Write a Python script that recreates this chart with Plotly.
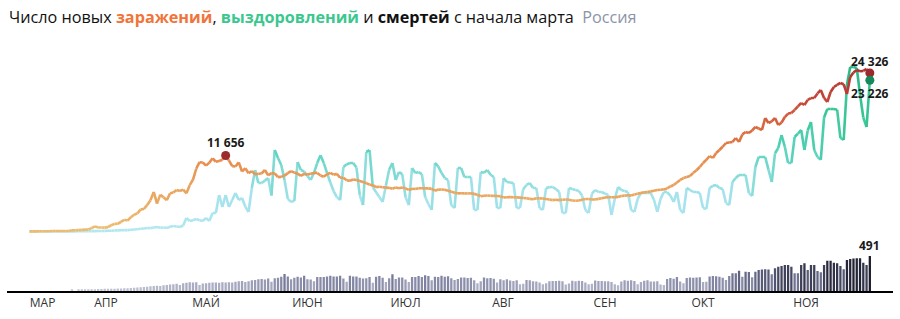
import numpy as np
import pandas as pd
import plotly.graph_objects as go
from plotly.colors import sample_colorscale

# ---------------- data (daily, Russia 2020) ----------------
cases_mar = [8, 6, 11, 14, 30, 21, 33, 52, 54, 53, 61, 71, 57, 163, 182, 196, 228, 270, 302, 500]  # from Mar 12
cases_apr = [771, 601, 601, 582, 658, 954, 1154, 1175, 1459, 1786, 1667, 2186, 2558, 2774, 3388, 3448, 4070, 4785, 6060, 4268,
             5642, 5236, 4774, 5849, 5966, 6361, 6198, 6411, 5841, 7099]
cases_may = [7933, 9623, 10633, 10581, 10102, 10559, 11231, 10699, 10817, 11012, 11656, 10899, 10028, 9974, 10598, 9200,
             9709, 8926, 9263, 8764, 8849, 8894, 9434, 8599, 8946, 8915, 8338, 8371, 8572, 8952, 9268]
cases_jun = [9035, 8863, 8536, 8831, 8726, 8855, 8984, 8985, 8595, 8404, 8779, 8987, 8706, 8835, 8246, 8248, 7843, 7790,
             7972, 7889, 7728, 7600, 7425, 7176, 7113, 6800, 6852, 6791, 6719, 6693]
cases_jul = [6556, 6760, 6632, 6736, 6611, 6368, 6562, 6509, 6635, 6635, 6611, 6615, 6537, 6248, 6422, 6428, 6406, 6234,
             6109, 5940, 5842, 5862, 5848, 5811, 5871, 5765, 5635, 5395, 5475, 5509, 5482]
cases_aug = [5450, 5430, 5400, 5200, 5250, 5270, 5250, 5220, 5190, 5120, 5100, 5000, 4950, 5100, 5070, 5060, 4970, 4900,
             4800, 4850, 4800, 4870, 4900, 4850, 4750, 4700, 4750, 4850, 4980, 4980, 4900]
cases_sep = [4900, 5000, 5100, 5200, 5250, 5250, 5250, 5300, 5450, 5500, 5550, 5500, 5650, 5800, 5900, 6000, 6050, 6150,
             6250, 6350, 6400, 6450, 6600, 6900, 7130, 7500, 7900, 8200, 8350, 8510]
cases_oct = [9000, 9400, 9890, 10500, 11000, 11580, 11275, 12040, 12500, 13000, 13580, 13650, 13730, 14350, 13730, 14900,
             15270, 15120, 15500, 16040, 15800, 15580, 17420, 16650, 16900, 17420, 16340, 16700, 17570, 18100, 18190]
cases_nov = [18650, 19200, 19720, 19420, 20200, 20490, 20490, 21200, 21720, 20500, 19880, 21410, 22180, 22500, 22800,
             22600, 21100, 23700, 24400, 24800, 24600, 24650, 24950, 24326]

rec_mar = [0, 0, 0, 0, 0, 1, 1, 2, 3, 3, 5, 5, 8, 9, 10, 12, 15, 20, 25, 35]  # from Mar 12
rec_apr = [45, 50, 60, 75, 90, 110, 130, 150, 170, 200, 200, 250, 300, 330, 400, 450, 520, 500, 600, 680, 550, 600, 520,
           700, 830, 750, 680, 900, 2060, 1600]
rec_may = [1700, 1900, 1700, 1600, 2060, 1600, 2830, 2830, 5590, 3750, 5590, 3750, 4820, 5900, 4820, 5130, 3800, 2980,
           6670, 9430, 7430, 7430, 7800, 8200, 5500, 12500, 11280, 10200, 7900, 5000, 4520]
rec_jun = [4700, 10660, 9430, 9200, 8500, 7900, 9000, 10500, 11700, 10500, 9000, 7500, 6200, 5280, 4820, 9890, 10300,
           10500, 10500, 9800, 5590, 4050, 12200, 12500, 6820, 6000, 5280, 4520, 7000, 9500]
rec_jul = [10500, 7900, 9120, 8800, 5280, 4050, 9740, 8970, 9120, 8800, 5280, 4200, 3290, 10500, 10000, 9000, 8200, 7900,
           4000, 3590, 9740, 9740, 8360, 8360, 8360, 3290, 3290, 9120, 9000, 9430, 8700]
rec_aug = [8360, 3590, 3590, 8200, 7590, 7500, 7430, 3600, 3590, 6500, 7130, 7430, 6670, 6670, 3590, 3290, 6670, 6800,
           6820, 6500, 6050, 2830, 2830, 6670, 6500, 6360, 6200, 5500, 3290, 2830, 5800]
rec_sep = [6360, 6050, 6050, 5800, 5590, 2520, 5000, 6820, 6360, 6200, 6050, 3290, 2980, 5000, 5900, 5900, 5900, 5900,
           4820, 2980, 5000, 6050, 6050, 5500, 4520, 6050, 3290, 2830, 6670, 6360]
rec_oct = [6050, 6050, 5900, 3590, 3440, 6670, 7000, 7130, 6670, 6500, 4360, 4050, 7590, 8200, 8660, 8660, 8660, 5900,
           5440, 9890, 11430, 11430, 11430, 9500, 7590, 12000, 12810, 14810, 13000, 10500, 10500]
rec_nov = [14500, 15000, 15580, 12500, 15500, 16800, 12500, 11430, 11000, 17500, 18800, 18800, 18800, 18700, 14350,
           14040, 22490, 25250, 25250, 25100, 21000, 17500, 16040, 23226]

deaths_mar = [15, 0, 18, 20, 22, 22, 25]  # from Mar 25
deaths_apr = [26, 28, 28, 30, 30, 32, 33, 34, 36, 38, 40, 42, 45, 48, 52, 56, 61, 66, 70, 75, 70, 80, 84, 90, 94, 100,
              84, 108, 117, 122]
deaths_may = [120, 122, 84, 105, 110, 115, 118, 120, 115, 122, 118, 122, 120, 131, 135, 140, 125, 135, 150, 155, 164,
              170, 160, 175, 130, 178, 185, 200, 238, 205, 165]
deaths_jun = [185, 200, 190, 215, 165, 160, 135, 195, 195, 198, 205, 215, 205, 205, 215, 175, 130, 215, 205, 205, 185,
              175, 178, 195, 115, 200, 210, 185, 125, 178]
deaths_jul = [235, 170, 190, 190, 160, 125, 195, 195, 210, 195, 220, 210, 150, 200, 198, 215, 200, 208, 178, 155, 170,
              188, 188, 183, 185, 150, 110, 138, 190, 178, 183]
deaths_aug = [172, 118, 165, 150, 165, 148, 142, 150, 95, 100, 155, 150, 138, 134, 118, 95, 110, 138, 140, 140, 145, 138,
              92, 106, 145, 135, 145, 140, 118, 95, 100]
deaths_sep = [146, 142, 140, 136, 138, 126, 94, 80, 134, 152, 145, 150, 142, 94, 126, 145, 150, 132, 132, 136, 90, 84,
              168, 182, 172, 196, 134, 108, 182, 190]
deaths_oct = [185, 190, 192, 126, 130, 205, 210, 208, 200, 185, 154, 210, 248, 248, 285, 200, 271, 265, 192, 271, 295,
              300, 304, 300, 234, 318, 341, 350, 365, 365, 341]
deaths_nov = [248, 248, 365, 388, 295, 365, 365, 280, 262, 365, 425, 425, 397, 388, 350, 304, 435, 449, 455, 458, 458,
              397, 365, 491]

month_labels = ["МАР", "АПР", "МАЙ", "ИЮН", "ИЮЛ", "АВГ", "СЕН", "ОКТ", "НОЯ"]

# ---------------- helpers ----------------
def build(series_list, first_start):
    starts = [first_start, "2020-04-01", "2020-05-01", "2020-06-01", "2020-07-01", "2020-08-01",
              "2020-09-01", "2020-10-01", "2020-11-01"]
    dates, vals = [], []
    for s, arr in zip(starts, series_list):
        dates += [d.strftime("%Y-%m-%d") for d in pd.date_range(s, periods=len(arr), freq="D")]
        vals += [float(v) for v in arr]
    return dates, np.array(vals, dtype=float)

c_dates, cases = build([cases_mar, cases_apr, cases_may, cases_jun, cases_jul, cases_aug, cases_sep, cases_oct, cases_nov], "2020-03-12")
r_dates, recov = build([rec_mar, rec_apr, rec_may, rec_jun, rec_jul, rec_aug, rec_sep, rec_oct, rec_nov], "2020-03-12")
d_dates, deaths = build([deaths_mar, deaths_apr, deaths_may, deaths_jun, deaths_jul, deaths_aug, deaths_sep, deaths_oct, deaths_nov], "2020-03-25")

cases_scale = [[0, "#ecbc70"], [0.25, "#e9a55e"], [0.45, "#e78a4d"], [0.62, "#d9683f"],
               [0.8, "#c34638"], [1, "#a93030"]]
recov_scale = [[0, "#b2e8f0"], [0.22, "#a4e2ec"], [0.4, "#74d8cc"], [0.52, "#4fd0b4"],
               [0.7, "#3bc897"], [1, "#2ab683"]]
deaths_scale = [[0, "#c9cbd9"], [0.25, "#a9abc2"], [0.45, "#7d809e"], [0.65, "#50536f"],
                [0.85, "#2a2b40"], [1, "#1c1c2a"]]

VMAX = 25500.0

def gradient_traces(dates, vals, scale, width, nbins=40):
    mids = (vals[:-1] + vals[1:]) / 2.0 / VMAX
    bins = np.clip(np.floor(mids * nbins), 0, nbins - 1).astype(int)
    traces = []
    for b in np.unique(bins):
        xs, ys = [], []
        for i in np.where(bins == b)[0]:
            xs += [dates[i], dates[i + 1], None]
            ys += [float(vals[i]), float(vals[i + 1]), None]
        col = sample_colorscale(scale, [(b + 0.5) / nbins])[0]
        traces.append(go.Scatter(x=xs, y=ys, mode="lines", line=dict(color=col, width=width),
                                 hoverinfo="skip", showlegend=False, connectgaps=False))
    return traces

fig = go.Figure()

# deaths bars
fig.add_trace(go.Bar(x=d_dates, y=deaths, yaxis="y2",
                     marker=dict(color=deaths, colorscale=deaths_scale, cmin=0, cmax=float(deaths.max()),
                                 line=dict(width=0)),
                     hoverinfo="skip", showlegend=False))

for t in gradient_traces(r_dates, recov, recov_scale, 2.6):
    fig.add_trace(t)
for t in gradient_traces(c_dates, cases, cases_scale, 2.6):
    fig.add_trace(t)

# markers
spring = np.array([d < "2020-06-01" for d in c_dates])
i_peak = int(np.argmax(np.where(spring, cases, -1)))
fig.add_trace(go.Scatter(x=[c_dates[i_peak], c_dates[-1]], y=[cases[i_peak], cases[-1]], mode="markers",
                         marker=dict(color="#9c2a2c", size=9), hoverinfo="skip", showlegend=False))
fig.add_trace(go.Scatter(x=[r_dates[-1]], y=[recov[-1]], mode="markers",
                         marker=dict(color="#168a5c", size=9), hoverinfo="skip", showlegend=False))

def fmt(v):
    return f"{int(round(v)):,}".replace(",", " ")

lab_font = dict(family="Open Sans", size=12, color="#1a1a1a")
fig.add_annotation(x=c_dates[i_peak], y=cases[i_peak], text=f"<b>{fmt(cases[i_peak])}</b>", showarrow=False,
                   yshift=13, font=lab_font)
fig.add_annotation(x=c_dates[-1], y=cases[-1], text=f"<b>{fmt(cases[-1])}</b>", showarrow=False,
                   yshift=12, font=lab_font)
fig.add_annotation(x=r_dates[-1], y=recov[-1], text=f"<b>{fmt(recov[-1])}</b>", showarrow=False,
                   yshift=-13, font=lab_font)
fig.add_annotation(x=d_dates[-1], y=deaths[-1], yref="y2", text=f"<b>{fmt(deaths[-1])}</b>", showarrow=False,
                   yshift=10, font=lab_font)

title = ("Число новых <span style='color:#f0743a'><b>заражений</b></span>, "
         "<span style='color:#3cc78f'><b>выздоровлений</b></span> и <b>смертей</b> с начала марта"
         "  <span style='color:#8c94a8'>Россия</span>")
fig.add_annotation(xref="paper", yref="paper", x=7 / 900, y=1 - 17 / 319, xanchor="left", yanchor="middle",
                   text=title, showarrow=False, font=dict(family="Open Sans", size=16.2, color="#111"))

tick_dates = ["2020-03-16", "2020-04-04 10:00", "2020-05-05", "2020-06-05", "2020-07-05", "2020-08-03 19:00",
              "2020-09-04", "2020-10-04", "2020-11-04 12:00"]

fig.update_layout(
    width=900, height=319, margin=dict(l=0, r=0, t=0, b=0),
    paper_bgcolor="white", plot_bgcolor="rgba(0,0,0,0)",
    bargap=0.3,
    xaxis=dict(domain=[7 / 900, 893 / 900], range=["2020-03-05 03:00", "2020-12-01 02:00"], type="date",
               anchor="y2", showline=True, linecolor="#000", linewidth=1.6, showgrid=False, zeroline=False,
               tickmode="array", tickvals=tick_dates, ticktext=month_labels, ticks="",
               tickfont=dict(family="Open Sans", size=12, color="#333")),
    yaxis=dict(domain=[0.2, 1.0], range=[-3656, 35545], visible=False, fixedrange=True),
    yaxis2=dict(domain=[28 / 319, 0.2], range=[0, (0.2 - 28 / 319) * 319 / 0.0713], visible=False, fixedrange=True),
)

fig.write_html("out.html")
